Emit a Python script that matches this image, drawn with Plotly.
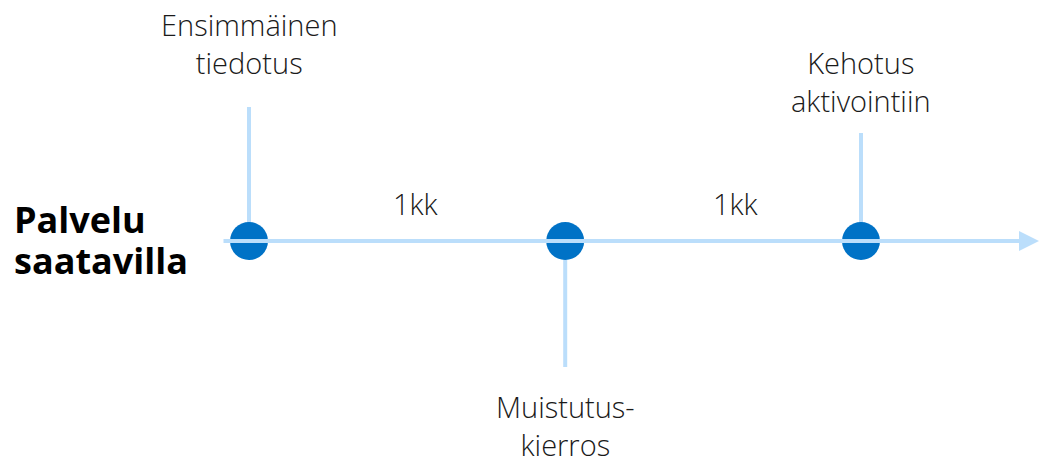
import plotly.graph_objects as go

# ---- data ----
start_label_lines = ["Palvelu", "saatavilla"]
event_labels = ["Ensimmäinen<br>tiedotus", "Muistutus-<br>kierros", "Kehotus<br>aktivointiin"]
event_days = [0, 31, 60]            # days since the service became available
event_sides = ["up", "down", "up"]   # which side of the timeline the label sits on
interval_labels = ["1kk", "1kk"]

# ---- style ----
LINE = "#BBDEFB"
DOT = "#0072C6"
TEXT = "#1a1a1a"
FONT = "Open Sans"
stem_len = [134, 126, 108]          # stem lengths in px
label_gap = [23, 18, 11]            # gap between stem end and label block
interval_xshift = [9, 23]
start_line_y = [22, -19]            # px above the timeline for each start-label line

W, H = 1040, 457
PX_PER_DAY = 10.2
X0_PX = 249
BASE_PX = 241
x_range = [-X0_PX / PX_PER_DAY, (W - X0_PX) / PX_PER_DAY]
y_range = [-(H - BASE_PX), BASE_PX]

fig = go.Figure()

# stems
for d, side, L in zip(event_days, event_sides, stem_len):
    yend = L if side == "up" else -L
    fig.add_trace(go.Scatter(x=[d, d], y=[0, yend], mode="lines",
                             line=dict(color=LINE, width=4),
                             hoverinfo="skip", showlegend=False, cliponaxis=False))

# main timeline with arrow (annotation arrow)
tail_day = (222 - X0_PX) / PX_PER_DAY
tip_day = (W - 1 - X0_PX) / PX_PER_DAY
fig.add_annotation(x=tip_day, y=0, ax=tail_day, ay=0, xref="x", yref="y",
                   axref="x", ayref="y", showarrow=True, arrowhead=2,
                   arrowsize=1.0, arrowwidth=4, arrowcolor=LINE, text="")

# dots
fig.add_trace(go.Scatter(x=event_days, y=[0] * len(event_days), mode="markers",
                         marker=dict(size=38, color=DOT, line=dict(width=0)),
                         hoverinfo="skip", showlegend=False, cliponaxis=False))

# event labels
for d, side, L, g, lab in zip(event_days, event_sides, stem_len, label_gap, event_labels):
    up = side == "up"
    fig.add_annotation(x=d, y=(L + g) if up else -(L + g), text=lab, showarrow=False,
                       yanchor="bottom" if up else "top",
                       xanchor="center", align="center",
                       font=dict(family=FONT, size=29, color=TEXT, weight=300))

# interval labels
for i, lab in enumerate(interval_labels):
    mid = (event_days[i] + event_days[i + 1]) / 2
    fig.add_annotation(x=mid, y=38, text=lab, showarrow=False, xshift=interval_xshift[i],
                       yanchor="middle", xanchor="center",
                       font=dict(family=FONT, size=29, color=TEXT, weight=300))

# start label
for lab, yy in zip(start_label_lines, start_line_y):
    fig.add_annotation(x=12 / W, xref="paper", y=yy, yref="y", text=lab,
                       showarrow=False, xanchor="left", yanchor="middle", align="left",
                       font=dict(family=FONT, size=36, color="#000000", weight=700))

fig.update_layout(
    width=W, height=H, margin=dict(l=0, r=0, t=0, b=0),
    paper_bgcolor="white", plot_bgcolor="white",
    xaxis=dict(range=x_range, visible=False, fixedrange=True),
    yaxis=dict(range=y_range, visible=False, fixedrange=True),
    showlegend=False,
)

fig.write_html(
    "out.html",
    config={"displayModeBar": False, "staticPlot": True},
    post_script="document.body.style.margin='0';document.body.style.overflow='hidden';",
)
